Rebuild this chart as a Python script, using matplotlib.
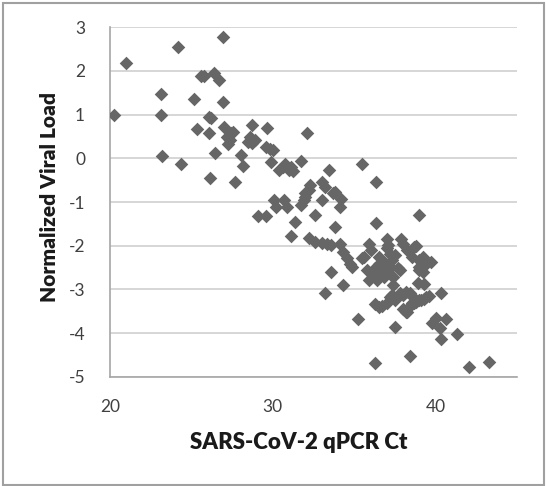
import matplotlib
matplotlib.use("Agg")
import matplotlib.pyplot as plt
from matplotlib.patches import Rectangle

# Ct value vs normalized viral load
ct = [
    20.25, 20.97, 23.13, 23.13, 23.17, 24.2, 24.36, 25.14, 25.35, 25.6,
    25.8, 26.05, 26.1, 26.2, 26.17, 26.4, 26.7, 26.45, 26.93, 26.93,
    27.0, 27.2, 27.35, 27.4, 27.55, 27.24, 27.65, 28.07, 28.17, 28.6,
    28.5, 28.7, 28.7, 28.9, 29.1, 29.6, 29.65, 29.6, 29.8, 30.0,
    29.9, 30.05, 30.2, 30.4, 30.6, 30.75, 31.0, 31.1, 31.25, 30.7,
    30.9, 31.36, 31.1, 31.7, 31.75, 32.0, 32.1, 32.2, 32.3, 32.25,
    32.6, 32.6, 33.0, 33.2, 33.0, 33.0, 33.3, 33.45, 33.6, 33.6,
    33.8, 33.8, 34.2, 34.1, 34.1, 34.3, 34.3, 34.55, 34.75, 34.85,
    33.2, 35.2, 35.5, 36.35, 36.35, 36.25, 39.0, 31.9, 33.7, 32.0,
    35.9, 36.0, 35.6, 35.5, 35.8, 35.9, 36.1, 36.3, 36.5, 36.5,
    36.4, 36.8, 36.7, 36.9, 37.0, 37.1, 37.0, 37.2, 37.3, 37.2,
    37.1, 37.4, 37.4, 37.5, 37.7, 37.8, 37.9, 38.0, 38.25, 38.55,
    38.65, 38.8, 38.97, 39.3, 39.7, 39.2, 39.0, 39.4, 38.97, 39.2,
    38.9, 39.3, 36.3, 36.5, 36.7, 37.0, 37.3, 37.2, 37.5, 37.6,
    37.8, 38.0, 38.15, 38.45, 38.5, 38.0, 38.15, 38.25, 38.35, 38.55,
    38.65, 38.8, 38.97, 39.1, 39.3, 39.4, 39.6, 37.5, 38.4, 40.35,
    39.75, 40.05, 40.25, 40.3, 40.65, 41.3, 42.05, 43.25,
]
load = [
    1.0, 2.17, 1.47, 1.0, 0.06, 2.54, -0.14, 1.35, 0.67, 1.88,
    1.88, 0.58, 0.95, 0.91, -0.46, 1.94, 1.80, 0.11, 2.78, 1.29,
    0.72, 0.49, 0.41, 0.57, 0.6, 0.32, -0.55, 0.07, -0.17, 0.48,
    0.38, 0.75, 0.34, 0.42, -1.33, -1.33, 0.70, 0.26, 0.22, 0.18,
    -0.08, -0.96, -1.11, -0.27, -0.2, -0.12, -0.27, -0.2, -0.3, -0.96,
    -1.11, -1.46, -1.78, -0.06, -1.07, -0.88, 0.57, -0.73, -0.62, -1.82,
    -1.3, -1.91, -0.54, -0.65, -0.96, -1.94, -1.95, -0.27, -1.99, -2.6,
    -0.77, -1.56, -0.92, -1.11, -1.95, -2.14, -2.9, -2.29, -2.41, -2.48,
    -3.09, -3.67, -0.13, -0.54, -1.48, -4.67, -1.29, -0.96, -0.79, -0.8,
    -1.95, -2.1, -2.26, -2.29, -2.56, -2.79, -2.62, -2.52, -2.41, -2.26,
    -2.79, -2.71, -2.6, -2.4, -1.84, -1.99, -2.05, -2.18, -2.33, -2.49,
    -2.56, -2.71, -2.9, -2.22, -2.52, -2.56, -1.84, -1.95, -2.1, -2.26,
    -2.03, -2.0, -2.33, -2.37, -2.37, -2.26, -2.49, -2.41, -2.56, -2.6,
    -2.85, -2.87, -3.34, -3.4, -3.37, -3.32, -3.13, -3.17, -3.25, -3.17,
    -3.09, -3.13, -3.06, -3.09, -3.13, -3.44, -3.51, -3.51, -3.4, -3.32,
    -3.32, -3.29, -3.25, -3.25, -3.21, -3.17, -3.15, -3.86, -4.52, -3.08,
    -3.76, -3.65, -3.88, -4.13, -3.68, -4.01, -4.78, -4.66,
]

plt.rcParams["font.family"] = ["Lato", "DejaVu Sans"]
plt.rcParams["axes.unicode_minus"] = False

fig = plt.figure(figsize=(5.46, 4.86), dpi=100)
ax = fig.add_axes([0.2015, 0.2243, 0.7455, 0.7201])

ax.scatter(ct, load, marker="D", s=48, color="#666666", linewidths=0, zorder=3)

ax.set_xlim(20, 45)
ax.set_ylim(-5, 3)
ax.set_xticks([20, 30, 40])
ax.set_yticks(range(-5, 4))
ax.grid(axis="y", color="#d0d0d0", linewidth=1.2, zorder=0)
ax.set_axisbelow(True)
ax.tick_params(length=0, labelsize=12.5, colors="#404040", pad=16)
ax.tick_params(axis="y", pad=18)

for side in ["top", "right"]:
    ax.spines[side].set_visible(False)
for side in ["left", "bottom"]:
    ax.spines[side].set_color("#a6a6a6")
    ax.spines[side].set_linewidth(1.2)

fig.text(299 / 546, 1 - 442 / 486, "SARS-CoV-2 qPCR Ct", ha="center", va="center",
         fontsize=16, fontweight="heavy", color="#1a1a1a")
fig.text(50 / 546, 1 - 197 / 486, "Normalized Viral Load", ha="center", va="center",
         rotation=90, fontsize=15, fontweight="heavy", color="#1a1a1a")

# grey frame round the whole chart
fig.patches.append(Rectangle((0.006, 0.003), 0.99, 0.99, transform=fig.transFigure,
                             fill=False, edgecolor="#a0a0a0", linewidth=1.5))

fig.savefig("out.png", dpi=100)
